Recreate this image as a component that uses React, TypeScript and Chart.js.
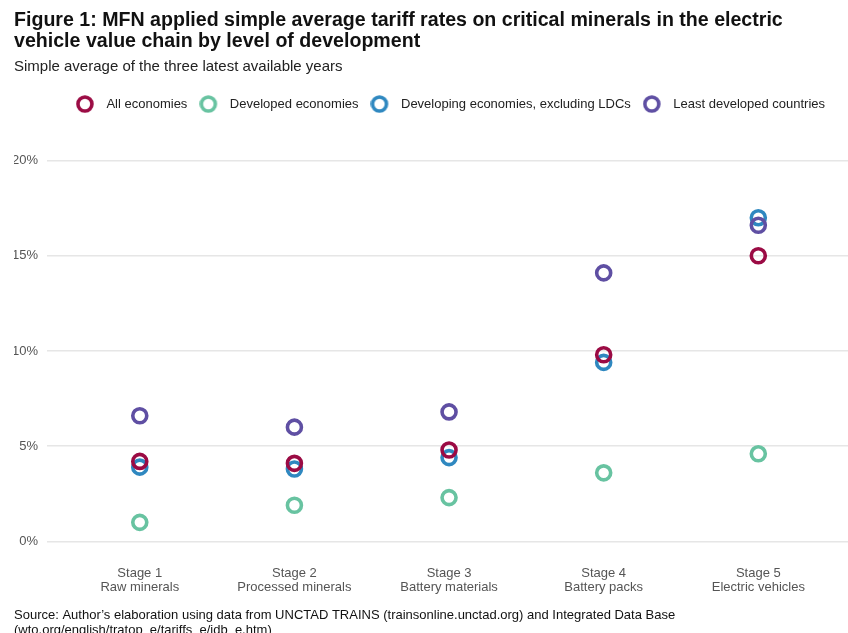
import React, { useEffect, useRef } from "react";
import { Chart, registerables } from "chart.js";

Chart.register(...registerables);

const stageNumbers = [1, 2, 3, 4, 5];
const stageLabels: string[][] = [
  ["Stage 1", "Raw minerals"],
  ["Stage 2", "Processed minerals"],
  ["Stage 3", "Battery materials"],
  ["Stage 4", "Battery packs"],
  ["Stage 5", "Electric vehicles"],
];
const seriesNames = [
  "All economies",
  "Developed economies",
  "Developing economies, excluding LDCs",
  "Least developed countries",
];
const allEconomies = [4.2, 4.1, 4.8, 9.8, 15.0];
const developedEconomies = [1.0, 1.9, 2.3, 3.6, 4.6];
const developingExLDC = [3.9, 3.8, 4.4, 9.4, 17.0];
const leastDeveloped = [6.6, 6.0, 6.8, 14.1, 16.6];
const yTicks = [0, 5, 10, 15, 20];

const seriesColors = ["#9b0b44", "#68c3a1", "#2f88c0", "#5f4fa3"];
const drawOrder = [1, 2, 3, 0];

const titleLines = [
  "Figure 1: MFN applied simple average tariff rates on critical minerals in the electric",
  "vehicle value chain by level of development",
];
const subtitleText = "Simple average of the three latest available years";
const sourceLines = [
  "Source: Author\u2019s elaboration using data from UNCTAD TRAINS (trainsonline.unctad.org) and Integrated Data Base",
  "(wto.org/english/tratop_e/tariffs_e/idb_e.htm)",
];

const FONT = "Arial, 'Liberation Sans', Helvetica, sans-serif";

function makeLegendImage(color: string): HTMLCanvasElement {
  const c = document.createElement("canvas");
  c.width = 24;
  c.height = 18;
  const ctx = c.getContext("2d")!;
  ctx.strokeStyle = color;
  ctx.lineWidth = 3.6;
  ctx.beginPath();
  ctx.arc(9, 9, 7, 0, Math.PI * 2);
  ctx.stroke();
  return c;
}

export default function App() {
  const canvasRef = useRef<HTMLCanvasElement | null>(null);

  useEffect(() => {
    document.body.style.margin = "0";
    const canvas = canvasRef.current;
    if (!canvas) return;
    const seriesValues = [allEconomies, developedEconomies, developingExLDC, leastDeveloped];
    const legendImages = seriesColors.map((c) => makeLegendImage(c));

    const datasets = seriesNames.map((name, i) => ({
      label: name,
      data: seriesValues[i].map((v, j) => ({ x: stageNumbers[j], y: v })),
      borderColor: seriesColors[i],
      backgroundColor: "rgba(255,255,255,0)",
      pointStyle: "circle" as const,
      pointRadius: 7,
      pointHoverRadius: 7,
      pointBorderWidth: 3.6,
      showLine: false,
      order: drawOrder[i],
    }));

    const legendSpacing = {
      id: "legendSpacing",
      beforeInit(chart: any) {
        const origFit = chart.legend.fit;
        chart.legend.fit = function () {
          origFit.call(this);
          this.height += 40;
        };
      },
      afterLayout(chart: any) {
        if (chart.legend) chart.legend.left = chart.chartArea.left + 6;
      },
    };

    const sourcePlugin = {
      id: "sourceText",
      afterDraw(chart: any) {
        const ctx = chart.ctx;
        ctx.save();
        ctx.fillStyle = "#111";
        ctx.font = `13px ${FONT}`;
        ctx.textBaseline = "middle";
        ctx.textAlign = "left";
        sourceLines.forEach((line, i) => {
          ctx.fillText(line, 14, chart.height - 18 + i * 15);
        });
        ctx.restore();
      },
    };

    const chart = new Chart(canvas, {
      type: "scatter",
      data: { datasets },
      plugins: [legendSpacing, sourcePlugin],
      options: {
        animation: false,
        responsive: true,
        maintainAspectRatio: false,
        layout: { autoPadding: false, padding: { left: 14, right: 0, top: 10, bottom: 13 } },
        plugins: {
          title: {
            display: true,
            text: titleLines,
            align: "start",
            color: "#111",
            font: { family: FONT, size: 19.6, weight: "bold", lineHeight: 1.06 },
            padding: { top: 0, bottom: 6 },
          },
          subtitle: {
            display: true,
            text: subtitleText,
            align: "start",
            color: "#222",
            font: { family: FONT, size: 15, lineHeight: 1.2 },
            padding: { top: 0, bottom: 10 },
          },
          legend: {
            display: true,
            position: "top",
            align: "center",
            labels: {
              usePointStyle: true,
              pointStyleWidth: 24,
              boxHeight: 13,
              padding: 12,
              color: "#222",
              font: { family: FONT, size: 13 },
              generateLabels: (chart: any) =>
                chart.data.datasets.map((ds: any, i: number) => ({
                  text: ds.label,
                  fillStyle: "rgba(0,0,0,0)",
                  strokeStyle: "rgba(0,0,0,0)",
                  lineWidth: 0,
                  pointStyle: legendImages[i],
                  hidden: false,
                  datasetIndex: i,
                  fontColor: "#222",
                })),
            },
          },
          tooltip: { enabled: false },
        },
        scales: {
          x: {
            type: "linear",
            min: 0.4,
            max: 5.58,
            grid: { display: false, drawTicks: false },
            border: { display: false },
            afterBuildTicks: (scale: any) => {
              scale.ticks = stageNumbers.map((v) => ({ value: v }));
            },
            afterFit: (scale: any) => {
              scale.paddingLeft = 0;
              scale.paddingRight = 0;
            },
            ticks: {
              padding: 25,
              color: "#555",
              font: { family: FONT, size: 13, lineHeight: 1.1 },
              maxRotation: 0,
              autoSkip: false,
              callback: (v: any) => {
                const idx = stageNumbers.indexOf(Number(v));
                return idx >= 0 ? stageLabels[idx] : "";
              },
            },
          },
          y: {
            type: "linear",
            min: 0,
            max: 20,
            afterBuildTicks: (scale: any) => {
              scale.ticks = yTicks.map((v) => ({ value: v }));
            },
            afterFit: (scale: any) => {
              scale.width = 33;
            },
            grid: { color: "#e6e6e6", lineWidth: 1.4, drawTicks: false },
            border: { display: false },
            ticks: {
              padding: 9,
              color: "#555",
              font: { family: FONT, size: 13 },
              callback: (v: any) => `${v}%`,
            },
          },
        },
      },
    });
    return () => chart.destroy();
  }, []);

  return (
    <div style={{ width: 848, height: 633, position: "relative", background: "#fff" }}>
      <canvas ref={canvasRef} />
    </div>
  );
}
